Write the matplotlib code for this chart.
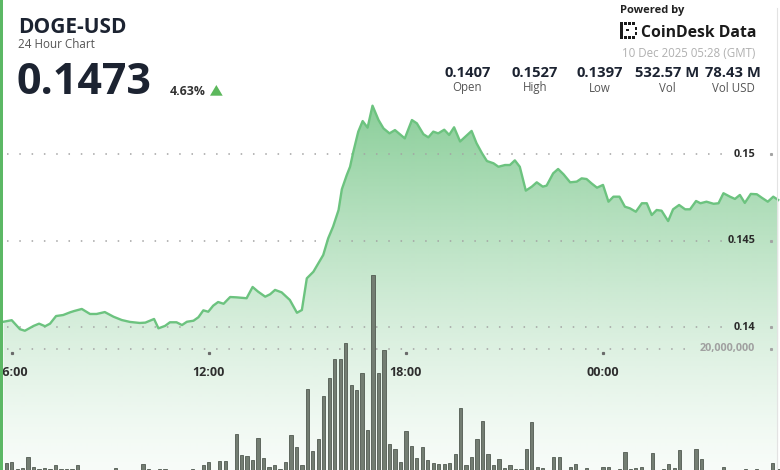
import matplotlib
matplotlib.use("Agg")
import matplotlib.pyplot as plt
import numpy as np
from matplotlib.patches import Polygon, Rectangle
from matplotlib.transforms import blended_transform_factory as blend

# ---------------- data ----------------
# price line vertices: minutes since 9 Dec 00:00 (GMT) and price in USD
price_minutes = [345, 360, 375, 384, 400, 410, 421, 430, 441, 454, 467, 474, 488, 503, 515, 530,
                 546, 561, 576, 594, 604, 620, 628, 640, 649, 661, 671, 680, 692, 701, 710, 719,
                 728, 737, 747, 759, 771, 789, 800, 810, 823, 832, 841, 853, 868, 881, 890, 899,
                 911, 929, 938, 947, 957, 963, 972, 978, 984, 993, 1001, 1010, 1019, 1030, 1039, 1050,
                 1060, 1078, 1091, 1100, 1112, 1121, 1130, 1139, 1150, 1159, 1168, 1179, 1188, 1200, 1209, 1219,
                 1228, 1240, 1249, 1261, 1270, 1279, 1288, 1299, 1310, 1319, 1330, 1337, 1349, 1358, 1368, 1380,
                 1392, 1401, 1410, 1419, 1429, 1440, 1450, 1459, 1470, 1480, 1489, 1500, 1511, 1520, 1529, 1538,
                 1547, 1559, 1568, 1579, 1590, 1599, 1610, 1618, 1629, 1642, 1651, 1660, 1672, 1681, 1690, 1699,
                 1710, 1721, 1730, 1741, 1751, 1760]
prices = [0.14032, 0.14041, 0.13989, 0.13980, 0.14008, 0.14021, 0.14006, 0.14021, 0.14065, 0.14071, 0.14087, 0.14094, 0.14106, 0.14077, 0.14077, 0.14088,
          0.14061, 0.14042, 0.14031, 0.14025, 0.14027, 0.14048, 0.13994, 0.14008, 0.14029, 0.14029, 0.14013, 0.14032, 0.14038, 0.14058, 0.14098, 0.14090,
          0.14125, 0.14146, 0.14136, 0.14175, 0.14173, 0.14168, 0.14233, 0.14206, 0.14177, 0.14191, 0.14216, 0.14202, 0.14158, 0.14084, 0.14100, 0.14283,
          0.14321, 0.14418, 0.14514, 0.14582, 0.14678, 0.14798, 0.14880, 0.14928, 0.15015, 0.15131, 0.15192, 0.15154, 0.15281, 0.15198, 0.15150, 0.15121,
          0.15140, 0.15092, 0.15198, 0.15179, 0.15116, 0.15098, 0.15131, 0.15121, 0.15142, 0.15112, 0.15156, 0.15074, 0.15100, 0.15135, 0.15064, 0.15006,
          0.14961, 0.14948, 0.14928, 0.14938, 0.14938, 0.14965, 0.14928, 0.14790, 0.14813, 0.14838, 0.14813, 0.14819, 0.14890, 0.14915, 0.14884, 0.14838,
          0.14842, 0.14861, 0.14857, 0.14832, 0.14807, 0.14823, 0.14726, 0.14755, 0.14755, 0.14697, 0.14688, 0.14668, 0.14717, 0.14717, 0.14649, 0.14678,
          0.14674, 0.14614, 0.14682, 0.14707, 0.14682, 0.14682, 0.14730, 0.14717, 0.14726, 0.14714, 0.14717, 0.14775, 0.14755, 0.14742, 0.14765, 0.14719,
          0.14771, 0.14769, 0.14749, 0.14726, 0.14755, 0.14736]

# 10-minute volume bars (millions of DOGE), first bar at 05:50
bar_start_minute = 350
bar_step_minutes = 10
volumes_m = [2.28, 2.43, 1.40, 1.60, 3.30, 1.75, 1.32, 1.50, 1.32, 2.02, 1.35, 1.32, 1.32, 1.97, 1.3, 1.3,
             1.3, 1.3, 1.3, 1.3, 1.60, 1.3, 1.3, 1.3, 1.3, 2.17, 1.35, 1.3, 1.40, 1.40, 1.3, 1.3,
             1.3, 1.3, 1.35, 1.3, 1.97, 2.48, 1.3, 2.68, 2.59, 1.3, 6.87, 3.52, 3.44, 2.79, 6.20, 3.05,
             1.71, 2.02, 1.40, 2.51, 6.67, 4.73, 2.09, 13.80, 4.19, 6.05, 12.79, 15.46, 18.40, 18.40, 20.93, 14.42,
             13.69, 16.23, 7.44, 31.47, 16.23, 19.84, 5.27, 4.50, 2.43, 7.33, 5.01, 3.15, 4.85, 2.84, 2.28, 2.12,
             2.17, 2.25, 3.72, 10.81, 1.97, 3.30, 5.97, 8.84, 3.77, 2.02, 2.90, 1.50, 1.94, 1.32, 1.36, 4.45,
             8.73, 1.75, 1.50, 1.3, 3.18, 3.30, 1.3, 1.71, 2.12, 1.3, 1.60, 1.3, 1.3, 1.66, 1.75, 1.3,
             1.40, 4.08, 1.40, 1.50, 1.75, 1.3, 3.92, 1.3, 1.32, 2.12, 1.50, 4.34, 1.3, 1.3, 4.45, 2.95,
             1.3, 1.3, 1.3, 1.75, 1.3, 1.3, 1.3, 1.40, 1.3, 1.40, 1.3, 1.3, 2.37, 1.40]

price_ticks = [0.14, 0.145, 0.15]
price_tick_labels = ["0.14", "0.145", "0.15"]
volume_ticks_m = [20]
volume_tick_labels = ["20,000,000"]
time_ticks = [360, 720, 1080, 1440]
time_tick_labels = ["06:00", "12:00", "18:00", "00:00"]

symbol = "DOGE-USD"
subtitle = "24 Hour Chart"
last_price = "0.1473"
change_pct = "4.63%"
stat_values = ["0.1407", "0.1527", "0.1397", "532.57 M", "78.43 M"]
stat_labels = ["Open", "High", "Low", "Vol", "Vol USD"]
powered = "Powered by"
brand = "CoinDesk Data"
timestamp = "10 Dec 2025 05:28 (GMT)"

# ---------------- style / layout ----------------
plt.rcParams['font.family'] = ['Open Sans', 'DejaVu Sans']
W, H = 780, 470
fig = plt.figure(figsize=(W / 100, H / 100), dpi=100)
fig.patch.set_facecolor('white')

XLIM = (338.6, 1763.3)          # minutes shown across the card
PLIM = (0.131751, 0.158919)     # price range over full card height
VLIM = (8 / 6.45, 478 / 6.45)   # volume range (baseline slightly below card)

axv = fig.add_axes([0, 0, 1, 1], zorder=1)
axp = fig.add_axes([0, 0, 1, 1], zorder=2)
for a in (axv, axp):
    a.set_xlim(*XLIM)
    a.axis('off')
axp.patch.set_visible(False)
axv.set_ylim(*VLIM)
axp.set_ylim(*PLIM)

LINE = '#6cc37f'
DARK = '#1c2331'

# gradient fill under price line
rows = np.arange(H)
alpha = np.clip(0.05 + 0.70 * np.clip((H - rows) / 365.0, 0, None) ** 1.3, 0, 0.8)
img = np.zeros((H, 2, 4))
img[..., 0] = 100 / 255
img[..., 1] = 190 / 255
img[..., 2] = 120 / 255
img[..., 3] = alpha[:, None]
im = axv.imshow(img, extent=[0, 1, 0, 1], transform=axv.transAxes, aspect='auto',
                origin='upper', zorder=1, interpolation='bilinear')
poly_pts = list(zip(price_minutes, prices)) + [(price_minutes[-1], 0.12), (price_minutes[0], 0.12)]
clip = Polygon(poly_pts, closed=True, transform=axp.transData, facecolor='none', edgecolor='none')
axv.add_patch(clip)
clip.set_visible(False)
im.set_clip_path(clip)

# volume bars
bar_x = [bar_start_minute + i * bar_step_minutes for i in range(len(volumes_m))]
axv.bar(bar_x, volumes_m, width=6, color='#737d72', edgecolor='#515a51', linewidth=0.6, zorder=4)

# price line
axp.plot(price_minutes, prices, color=LINE, lw=1.7, solid_joinstyle='round', zorder=5)

# axis labels (inside the card)
tr_p = blend(axv.transAxes, axp.transData)
tr_v = blend(axv.transAxes, axv.transData)
lab_x = 755 / W
labels = []
for v, s in zip(price_ticks, price_tick_labels):
    t = axv.text(lab_x, v, s, transform=tr_p, ha='right', va='center', fontsize=7.8,
                 fontweight='bold', color='#2a2a2a', zorder=6)
    labels.append((t, v, tr_p))
for v, s in zip(volume_ticks_m, volume_tick_labels):
    t = axv.text(lab_x, v, s, transform=tr_v, ha='right', va='center', fontsize=7.8,
                 fontweight='bold', color='#a0a0a0', zorder=6)
    labels.append((t, v, tr_v))

fig.canvas.draw()
r = fig.canvas.get_renderer()
for t, v, tr in labels:
    bb = t.get_window_extent(r)
    x_end = (bb.x0 - 5) / W
    axv.plot([7 / W, x_end], [v, v], transform=tr, color='#a3a3a3', lw=1.1,
             dashes=(1.0, 7.05), zorder=2)
    axv.plot([771 / W], [v], transform=tr, marker='s', ms=1.2, color='#a3a3a3', zorder=2)

tr_x = blend(axv.transData, axv.transAxes)
for tt, s in zip(time_ticks, time_tick_labels):
    axv.plot([tt], [1 - 353 / H], transform=tr_x, marker='s', ms=1.3, color='#6a6a6a', zorder=3)
    axv.text(tt, 1 - 373 / H, s, transform=tr_x, ha='center', va='center', fontsize=9,
             fontweight='bold', color='#2e2e2e', zorder=6)

# ---------------- header overlay (pixel space) ----------------
ov = fig.add_axes([0, 0, 1, 1], zorder=3)
ov.set_xlim(0, W)
ov.set_ylim(H, 0)
ov.axis('off')
ov.patch.set_visible(False)

ov.add_patch(Rectangle((0, 0), 3.4, H, color='#5cb865', lw=0, zorder=10))
ov.plot([777, 777], [8, H], color='#e3e3e3', lw=0.8)

ov.text(18, 33.3, symbol, fontsize=15, fontweight='bold', color=DARK, va='baseline')
ov.text(18.5, 48.3, subtitle, fontsize=8.4, color='#555555', va='baseline')
ov.text(17, 94.3, last_price, fontsize=31, fontweight='bold', color=DARK, va='baseline')
ov.text(170, 95, change_pct, fontsize=8.8, fontweight='bold', color='#333333', va='baseline')
ov.add_patch(Polygon([(210, 95.7), (222.7, 95.7), (216.35, 85)], closed=True, color='#5cb85c', lw=0))

ov.text(620, 12.5, powered, fontsize=8, fontweight='bold', color='#222222', va='baseline')
# CoinDesk mark
for (x, y, w, h) in [(620, 22, 3, 16.5), (623.5, 22, 3, 3), (627.5, 22, 3, 3), (631.5, 22, 3, 3),
                     (623.5, 35.5, 3, 3), (627.5, 35.5, 3, 3), (631.5, 35.5, 3, 3),
                     (634.5, 27, 2.5, 2.5), (634.5, 32, 2.5, 2.5), (626, 28.5, 2.5, 2.5)]:
    ov.add_patch(Rectangle((x, y), w, h, color='#1a1a1a', lw=0))
bt = ov.text(641, 37, brand, fontsize=13, fontweight='bold', color='#1a1a1a', va='baseline')
fig.canvas.draw()
bw = bt.get_window_extent(fig.canvas.get_renderer()).width
bt.set_fontsize(13 * 114 / bw)

ov.text(755, 57, timestamp, fontsize=8.3, color='#b0b0b0', ha='right', va='baseline')
centers = [467.5, 535, 600, 667, 733]
for c, v, l in zip(centers, stat_values, stat_labels):
    ov.text(c, 77.3, v, fontsize=10.6, fontweight='bold', color=DARK, ha='center', va='baseline')
    ov.text(c, 91.5, l, fontsize=8.3, color='#555555', ha='center', va='baseline')

fig.savefig('out.png', dpi=100, facecolor='white')
